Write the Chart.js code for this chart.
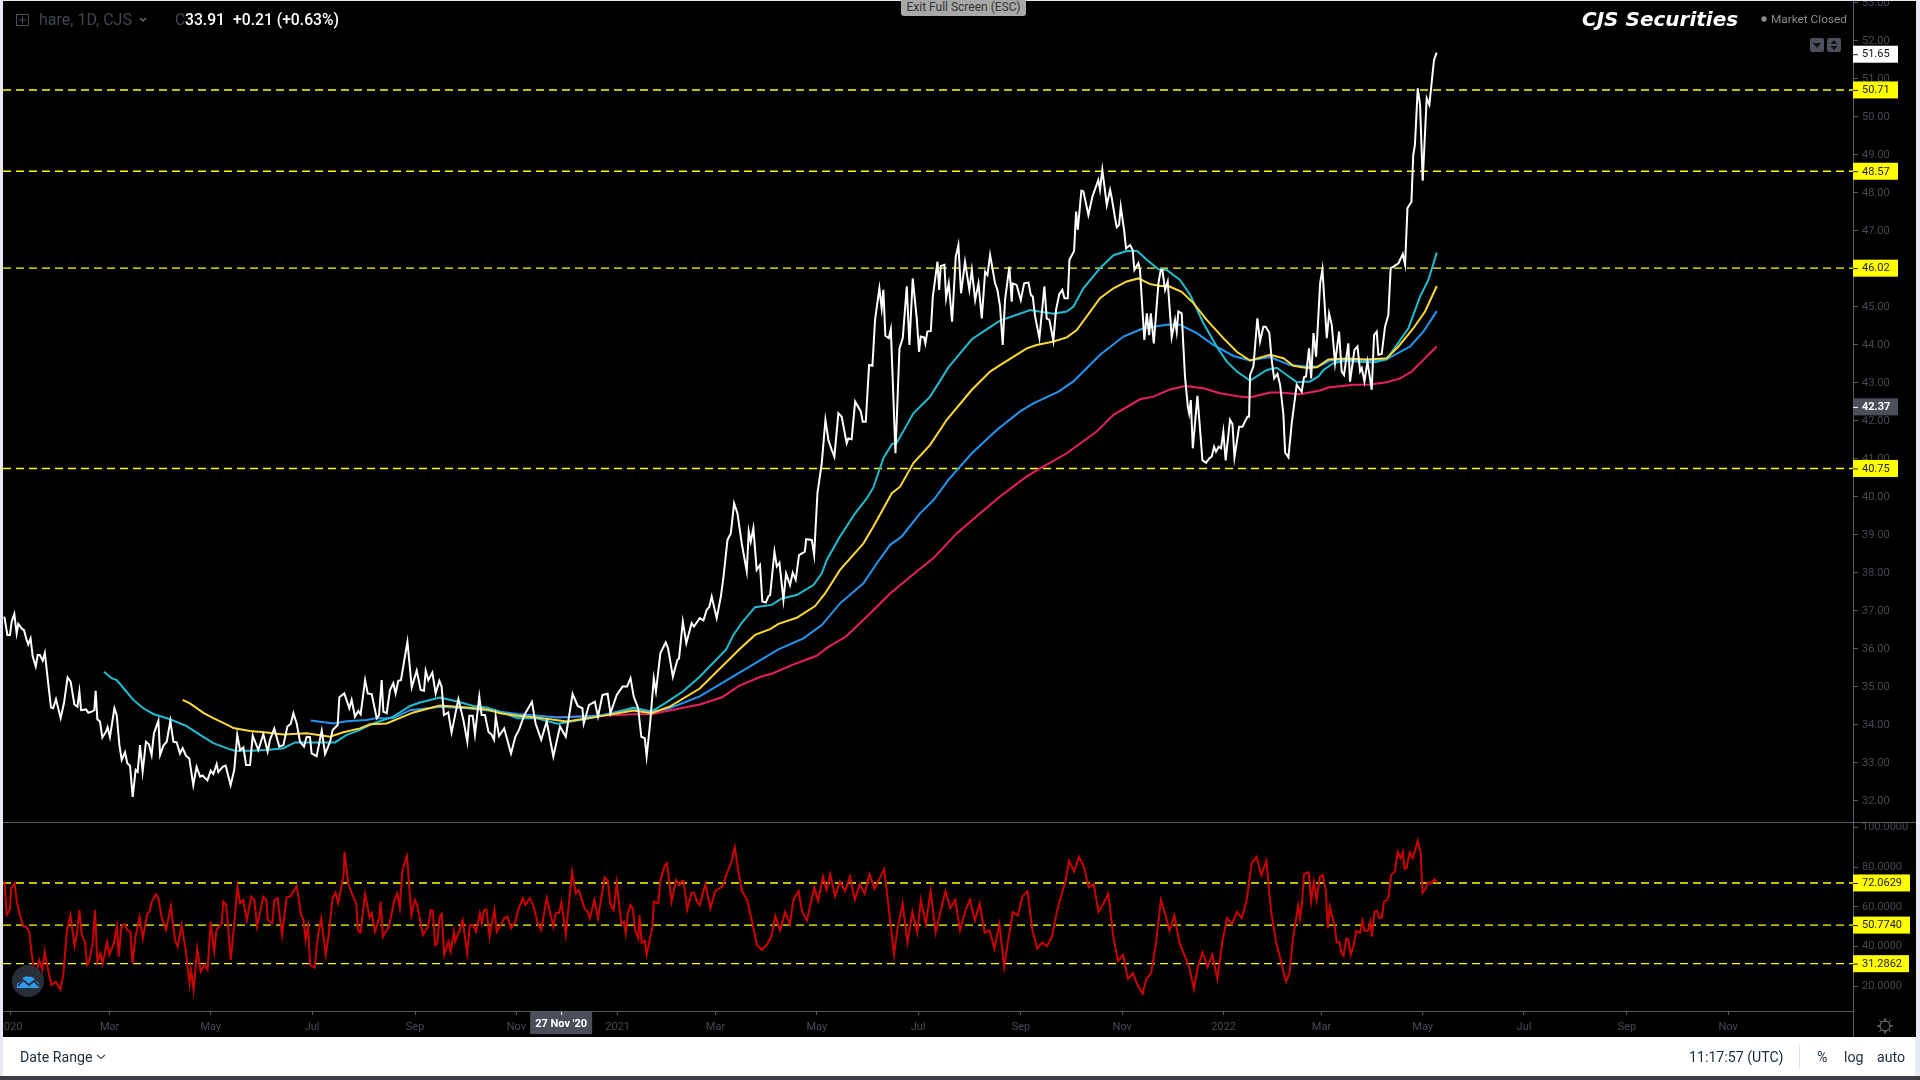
<!DOCTYPE html>
<html>
<head>
<meta charset="utf-8">
<title>CJS Securities</title>
<script src="https://cdn.jsdelivr.net/npm/chart.js@4/dist/chart.umd.min.js"></script>
<style>
html, body { margin:0; padding:0; width:1920px; height:1080px; overflow:hidden; background:#e6e8f2; font-family:Roboto, sans-serif; }
#panel { position:absolute; left:3px; top:1px; width:1913px; height:1036px; background:#000; }
canvas { position:absolute; display:block; }
#priceChart { left:3px; top:1px; }
#rsiChart { left:3px; top:822px; }
.txt { position:absolute; white-space:nowrap; }
#bar { position:absolute; left:3px; top:1037px; width:1912px; height:39px; background:#fff; }
#foot { position:absolute; left:0; top:1076px; width:1920px; height:4px; background:#3c3d42; }
#sep { position:absolute; left:3px; top:822px; width:1913px; height:1px; background:#565a64; }
#axisEnd { position:absolute; left:1853px; top:1011px; width:1px; height:26px; background:#565a64; }
svg { position:absolute; }
</style>
</head>
<body>
<div id="panel"></div>
<canvas id="priceChart" width="1913" height="821"></canvas>
<canvas id="rsiChart" width="1913" height="215"></canvas>
<div id="sep"></div>
<div id="axisEnd"></div>

<svg style="left:16px;top:14px" width="14" height="13"><rect x="0.5" y="0.5" width="12" height="11" fill="none" stroke="#4a4e58"/><path d="M6.5 2.5v7M3 6h7" stroke="#4a4e58"/></svg>
<div class="txt" style="left:39px;top:10px;font-size:16px;color:#41454f">hare, 1D, CJS</div>
<svg style="left:139px;top:17px" width="9" height="6"><path d="M1 1l3 3 3-3" fill="none" stroke="#777b85" stroke-width="1.2"/></svg>
<div class="txt" style="left:175px;top:10px;font-size:15.7px;color:#41454f">C</div>
<div class="txt" style="left:185px;top:10px;font-size:15.7px;font-weight:500;color:#fff">33.91</div>
<div class="txt" style="left:233px;top:10px;font-size:15.7px;font-weight:500;color:#fff">+0.21 (+0.63%)</div>

<div class="txt" style="left:901px;top:0;width:125px;height:16px;line-height:15px;background:#a9a9a9;border-radius:0 0 3px 3px;text-align:center;font-size:12px;color:#333">Exit Full Screen (ESC)</div>

<div class="txt" style="left:1582px;top:7px;font-family:'DejaVu Sans';font-weight:bold;font-style:italic;font-size:20px;color:#fff">CJS Securities</div>
<svg style="left:1761px;top:16px" width="6" height="6"><circle cx="3" cy="3" r="2.7" fill="#8a8a8a"/></svg>
<div class="txt" style="left:1771px;top:12px;font-size:11.8px;color:#8b8b8b">Market Closed</div>
<svg style="left:1810px;top:38px" width="32" height="14"><rect width="14" height="14" rx="2" fill="#4d505c"/><rect x="17" width="14" height="14" rx="2" fill="#4d505c"/><path d="M3 5h8l-4 5z" fill="#111"/><path d="M24 2l3.5 4h-7zM24 12l3.5-4h-7z" fill="#111"/></svg>

<svg style="left:11px;top:964px" width="34" height="34"><circle cx="17" cy="17" r="16" fill="#2a2e39"/><path d="M6 24c-1-4 1-6 4-6 1-5 5-7 8-5 3-1 6 1 6 4 3 0 5 3 4 7z" fill="#2d9cee"/><path d="M7 22l5-6 6 5 5-4 5 5" fill="none" stroke="#2a2e39" stroke-width="1.8"/></svg>

<svg style="left:1876px;top:1017px" width="18" height="18"><circle cx="9" cy="9" r="5" fill="none" stroke="#8b8e96"/><path d="M9 1v3M9 14v3M1 9h3M14 9h3M3.4 3.4l2 2M12.6 12.6l2 2M14.6 3.4l-2 2M5.4 12.6l-2 2" stroke="#8b8e96"/></svg>

<div id="bar"></div>
<div id="foot"></div>
<div class="txt" style="left:20px;top:1049px;font-size:14.2px;color:#1c2b3a">Date Range</div>
<svg style="left:96px;top:1054px" width="10" height="6"><path d="M1 1l4 3.5L9 1" fill="none" stroke="#444" stroke-width="1.1"/></svg>
<div class="txt" style="left:1689px;top:1049px;font-size:14.2px;color:#1c2b3a">11:17:57 (UTC)</div>
<div class="txt" style="left:1799px;top:1045px;width:1px;height:24px;background:#dfe1e8"></div>
<div class="txt" style="left:1817px;top:1049px;font-size:14.2px;color:#1c2b3a">%</div>
<div class="txt" style="left:1844px;top:1049px;font-size:14.2px;color:#1c2b3a">log</div>
<div class="txt" style="left:1877px;top:1049px;font-size:14.2px;color:#1c2b3a">auto</div>

<script>
// x values are calendar days counted from 1 Jan 2020
const monthDays = [0,60,121,182,244,305,366,425,486,547,609,670,731,790,851,912,974,1035];
const monthLabels = ['2020','Mar','May','Jul','Sep','Nov','2021','Mar','May','Jul','Sep','Nov','2022','Mar','May','Jul','Sep','Nov'];
const priceTicks = [32,33,34,35,36,37,38,39,40,41,42,43,44,45,46,47,48,49,50,51,52,53];
const rsiTicks = [20,40,60,80,100];
const priceLevels = [50.71,48.57,46.02,40.75];
const rsiLevels = [72.0629,50.7740,31.2862];

const closeDays = [
-3.4,-1.6,0,1,2.6,4,5,7.4,8.4,10,
11,12.4,13.7,15.5,16.7,18,19.7,21,23,24.7,
26,27.7,30.5,32.5,34.7,36.5,38.8,40.6,41.8,42.8,
45.8,47.2,49.2,50.8,51.6,52.6,54.2,55.6,57.8,58.8,
60.2,62.9,64.3,65.9,67.3,69.3,70.7,72.3,73.9,75.7,
76.9,78.3,79.9,81.9,83.7,85.3,86.7,89.4,90.4,92.4,
94.4,96.6,98.4,100.4,102.4,104,106,108,110.4,112.4,
114.5,116,118.9,120.9,122.5,124.5,125.5,128.1,129.9,132.9,
135.1,136.9,138.6,140.6,142.2,144.6,146.2,149.6,152.6,155.2,
156.6,159.2,162.2,164.7,167.1,169.1,170.7,172.7,174.7,177.1,
178.7,180.7,181.7,184.7,187.8,189.8,192.8,194.4,197.4,198.4,
201.4,204.4,205.8,207.8,209.8,211.2,213.9,215.5,217.9,220.9,
222.3,223.9,224.9,226.9,228.9,230.9,232.3,233.9,235.5,239.4,
242,245,247.4,249.4,250.4,252,254.4,256.4,258.6,260,
261.4,264,266,270.1,273.1,275.5,276.7,278.7,280.1,282.7,
284.1,286.1,288.2,290.2,291.6,292.6,294.6,297.7,301.8,304.4,
306.6,309.8,314.4,316.6,320,323.3,327.3,331.3,334.8,338.9,
342,344.8,345.6,348.8,352.3,354.2,356.9,360,361.7,365.5,
369,371.7,373.8,375.7,378.4,380.3,382.4,383.5,385.6,387.8,
389.1,391.8,395,396.4,399.3,402,403,405.3,407.4,410.6,
412,415.5,417.7,419.7,421.3,422.7,425.7,428.2,429.8,432.2,
434.2,436.2,438.2,440.8,443.8,445,446.2,447.8,449.8,451.8,
453.2,455.3,456.9,457.9,460.5,461.9,463.5,465.9,467.5,469.9,
471.5,473.3,475.3,478.8,479.6,483,484.4,486.4,489,491.2,
493,495,496.6,499,501,504,505,507,509.1,512.5,
513.7,515.5,517.5,519.5,521.1,523.7,525.1,526.1,527.3,529.4,
530.6,533.4,535.8,537.8,540.2,541.8,543.8,546.2,547.6,548.6,
550.6,551.4,552.6,554.7,555.9,558.7,559.7,560.7,562.9,563.9,
565.5,567.5,569.7,571.3,572.9,575.3,577.9,579.4,581.4,583.4,
585.4,587.4,588.8,590.4,593.4,594.8,596.4,598,599.4,602,
603.4,604,606.4,608.9,610.9,613.5,614.9,616.1,617.5,620.1,
623.1,624.5,626.1,628.5,630.1,632.1,633.9,635.2,637.2,638.2,
641,642.2,643.2,645.4,646.6,649.6,652,655.6,656.6,658,
660.7,662.7,663.7,665.7,666.7,668.1,669.1,671.1,672.3,674.7,
676.3,677.3,679.7,680.7,683.3,684.8,686.2,687.2,689,691.8,
693.2,694.2,695.8,697.4,699.8,701.8,702.8,703.8,705.8,707.8,
709.5,710.3,711.3,712.5,715.3,718.3,720.5,722.5,723.9,725.3,
726.5,728.1,729.5,730.9,732.3,734.9,736.4,737.6,740.4,742.4,
745.4,746.4,747,749,751.4,753,755,756.4,758.6,760,
761.5,763.5,765.1,767.1,768.1,770.1,772.1,775.1,778.1,779.5,
780.7,782.5,783.8,785.2,786.8,789.2,790.6,793.2,794.6,796.2,
798.2,800.6,802.2,803.6,806.2,807.2,809.9,811.7,813.3,814.3,
815.9,817.7,820.3,821.7,823.3,824.3,826.3,828.3,830.3,831.7,
833.4,836.4,839,840.4,841.8,844.2,845.3,846.3,848,849.4,
851,853.4,855,857.8,859.4];
const closeValues = [
36.85,36.37,36.37,36.72,36.92,36.41,36.66,36.52,36.5,36.24,
36.12,36.28,35.8,35.54,35.84,35.84,35.69,35.9,35.1,34.46,
34.44,34.68,34.18,34.57,35.25,35.14,34.54,34.48,34.88,34.39,
34.41,34.32,34.35,34.39,34.9,34.15,34.09,33.67,33.82,33.94,
33.68,34.44,34.26,33.47,33.08,33.28,32.99,32.93,32.11,32.82,
32.77,33.47,32.77,33.56,33.49,33.21,33.78,34.11,33.21,33.46,
33.56,34.11,33.56,33.54,33.25,33.39,33.19,33.12,32.42,32.9,
32.64,32.67,32.54,32.8,32.71,32.97,32.76,32.9,32.93,32.42,
32.82,33.74,33.34,33.41,32.95,32.95,33.72,33.34,33.76,33.3,
33.61,33.91,33.43,33.47,33.96,34.03,34.31,34.04,33.56,33.43,
33.69,33.68,33.25,33.18,33.85,33.24,33.56,33.87,34,34.73,
34.83,34.44,34.66,34.22,34.37,34.28,35.18,34.83,34.81,34.18,
34.26,35.18,34.35,34.31,34.92,35.1,34.83,35.16,35.18,36.19,
34.99,35.43,34.92,34.9,35.43,35.18,35.38,34.83,35.16,35.01,
34.26,34.33,33.8,34.68,34.13,33.56,34.24,34.24,33.75,34.75,
34.26,34.26,33.82,33.74,33.61,34.22,33.71,33.91,33.25,33.69,
33.87,34.26,34.61,34.04,33.61,34.09,33.17,33.96,33.69,34.82,
34.5,34.44,34.04,34.53,34.61,34.22,34.79,34.82,34.31,34.79,
35.01,35.01,35.23,34.75,34.44,33.69,33.65,33.17,34.04,35.23,
34.88,35.89,36.17,36.02,35.27,35.71,35.75,36.72,36.15,36.68,
36.59,36.81,36.75,37.03,37.11,37.38,36.81,37.38,37.9,38.87,
39.04,39.83,39.57,38.78,38.04,39.09,38.82,39.18,38.08,38.21,
37.25,37.22,37.39,37.42,38.56,38.17,38.27,37.29,37.99,37.68,
38.01,37.82,38.47,38.56,38.89,38.87,38.47,40.1,40.89,42.03,
41.5,41.24,41.06,42.2,42.11,41.41,41.54,41.52,42.51,42.25,
41.98,41.98,43.47,43.45,44.66,45.49,44.96,45.45,44.24,44.18,
44.41,41.15,43.91,44.18,45.54,44,45.75,44.7,43.82,44.22,
44.2,44.04,44.35,44.37,45.27,46.19,45.45,46.08,46.11,45.23,
45.62,44.61,46.32,46.63,45.36,46.19,45.45,45.97,45.18,45.62,
44.7,45.93,45.84,46.37,45.62,45.45,45.01,44,45.18,46.06,
45.14,45.62,45.58,45.18,45.62,45.64,45.32,45.27,44.75,44.18,
45.54,44.7,44.66,44.11,44.92,45.34,45.45,45.23,45.23,46.24,
46.47,47.51,47.03,48.06,48.04,47.42,47.9,48.34,48.08,48.61,
47.68,48.08,47.86,47.33,47.1,47.16,47.64,47.03,46.54,46.63,
46.5,45.97,46.15,45.97,44.13,44.83,44.26,44.83,44.04,45.62,
45.97,45.97,45.45,45.67,44.2,44.66,44.35,44.88,44.83,43.17,
42.38,42.2,42.55,41.28,42.66,40.97,40.9,41.02,41.06,41.32,
41.19,41.32,41.28,41.72,40.96,42.03,41.92,41.04,41.85,41.85,
42.11,42.11,43.21,43.43,44.7,44.09,44.48,44.48,44.32,43.61,
43.12,43.24,42.95,42.16,41.17,41.04,41.94,42.95,42.77,43.15,
43.17,43.91,43.12,44.31,43.69,45.62,45.99,44.18,44.83,44.53,
43.52,44.35,43.3,43.21,44.04,43.03,43.87,43.96,43.3,43.39,
43.04,43.56,42.82,44.26,44.35,43.74,43.76,44.48,44.79,46.02,
46.06,46.15,46.39,46.11,47.6,47.77,49,49.26,50.75,50.32,
48.32,50.49,50.32,51.5,51.69];

const tealDays = [
56.6,61.2,64.3,69.3,74.3,80.3,86.3,96.4,106.4,114.5,
122.5,130.5,135.5,144.6,154.6,164.7,171.7,180.7,195.8,202.8,
209.8,218.9,230.9,241,247,259,270.1,279.1,287.1,295.2,
305.8,316.6,330,343.4,356.9,375.7,386.4,394.5,405.3,415.5,
431.4,435.8,440.8,448.8,458.9,464.9,473.9,484,489,492,
500,509.1,516.1,520.1,526.1,531.2,534.2,540.2,544.2,554.3,
565.3,572.3,579.4,592.4,596.4,614.5,628.6,636.6,640.6,646.6,
656.6,664.7,672.7,679.1,684.8,691.8,696.8,704.8,710.9,718.9,
726.9,733,739,747,757.1,763.1,769.1,775.1,783.1,788.2,
791.2,797.2,805.2,813.3,821.3,829.3,837.4,842.4,849.4,854.4,859.5];
const tealValues = [
35.4,35.23,35.18,34.92,34.66,34.44,34.29,34.15,33.97,33.74,
33.52,33.39,33.32,33.32,33.34,33.39,33.54,33.54,33.54,33.74,
33.85,34.04,34.22,34.5,34.59,34.72,34.61,34.5,34.46,34.35,
34.18,34.18,34.03,34.13,34.24,34.46,34.35,34.57,34.88,35.27,
35.99,36.37,36.69,37.1,37.16,37.33,37.42,37.68,37.99,38.34,
38.96,39.57,39.96,40.25,41.02,41.39,41.43,41.89,42.2,42.64,
43.41,43.78,44.15,44.53,44.64,44.92,44.82,44.88,45.01,45.49,
46.02,46.36,46.47,46.47,46.24,45.99,45.97,45.71,45.32,44.57,
43.96,43.56,43.3,43.06,43.34,43.4,43.21,43.02,43.04,43.17,
43.34,43.52,43.59,43.56,43.54,43.62,44.13,44.44,45.27,45.71,46.43];

const yellowDays = [
104,108.4,116.5,122.5,132.5,134.5,144.6,154.6,164.7,178.7,
192.8,200.8,210.8,216.9,226.9,243,259,275.1,287.1,295.2,
305.8,316.6,335.4,354.2,375.7,386.4,397.2,415.5,439.4,448.8,
457.9,462.9,473.9,485,491,500,514.1,520.1,531.2,536.2,
544.2,554.3,564.3,579.4,590.4,596.4,612.5,618.5,628.6,636.6,
642.6,656.6,664.7,672.7,679.7,686.8,692.8,697.8,705.8,712.9,
720.9,730.9,739,747,759,767.1,773.1,781.1,787.2,794.2,
805.2,817.3,829.3,836.4,845.4,852.4,859.5];
const yellowValues = [
34.66,34.57,34.32,34.18,33.97,33.92,33.84,33.8,33.75,33.78,
33.69,33.81,33.91,34.02,34.04,34.33,34.51,34.46,34.41,34.31,
34.24,34.2,34.09,34.22,34.38,34.31,34.48,34.96,35.99,36.37,
36.52,36.66,36.82,37.13,37.46,38.08,38.78,39.22,40.1,40.27,
40.89,41.37,42.03,42.82,43.3,43.47,43.91,44,44.09,44.2,
44.39,45.23,45.49,45.67,45.75,45.6,45.55,45.55,45.4,45.1,
44.66,44.18,43.82,43.59,43.74,43.65,43.45,43.39,43.41,43.62,
43.64,43.62,43.65,43.96,44.44,44.88,45.55];

const blueDays = [
181.1,194.8,202.8,214.9,220.9,230.9,241,259,275.1,295.2,
305.8,330,354.2,375.7,386.4,397.2,415.5,462.9,478,489,
500,514.1,522.1,530.2,537.2,548.2,556.3,565.3,579.4,594.4,
608.5,616.5,631.6,640.6,656.7,670.7,682.7,696.8,704.8,714.9,
724.9,737,747,759,771.1,781.1,788.2,795.2,805.2,817.3,
829.3,843.4,851.4,859.5];
const blueValues = [
34.12,34.04,34.1,34.13,34.18,34.18,34.39,34.48,34.44,34.35,
34.29,34.2,34.24,34.44,34.35,34.44,34.75,35.99,36.28,36.63,
37.2,37.73,38.25,38.74,38.96,39.57,39.92,40.45,41.15,41.76,
42.25,42.46,42.77,43.04,43.74,44.22,44.44,44.53,44.53,44.31,
44,43.71,43.59,43.68,43.47,43.43,43.43,43.59,43.61,43.59,
43.62,43.96,44.35,44.89];

const pinkDays = [
324.5,343.4,364.9,375.7,386.4,397.2,415.5,428.9,439.1,452.2,
459.6,471.3,485.9,493.2,503.4,516.1,530.2,541.2,556.3,570.3,
584.4,596.4,612.5,620.5,636.6,654.6,664.7,680.7,688.8,698.8,
707.8,718.9,728.9,741,747,759,765.1,777.1,789.2,794.2,
809.3,819.3,829.3,837.4,844.4,850.4,855.4,859.5];
const pinkValues = [
34.2,34.22,34.26,34.28,34.28,34.38,34.54,34.73,35.03,35.27,
35.36,35.58,35.82,36.06,36.32,36.85,37.46,37.86,38.39,39.04,
39.57,40.01,40.54,40.75,41.15,41.72,42.16,42.57,42.64,42.83,
42.92,42.86,42.73,42.64,42.62,42.75,42.75,42.7,42.8,42.88,
42.95,42.96,43.02,43.12,43.3,43.56,43.78,43.96];

const rsiDays = [
-3.3,-2,-0.1,0.7,2.8,4.2,6.1,8,9.6,11.5,
12.8,14.1,15.5,17.6,19.5,20.9,23,24.9,27.6,30.3,
32.1,34.3,36.4,38.9,40.2,41.8,43.2,45.1,46.4,47.7,
49.9,51.2,52.6,54.5,55.8,58.5,59.8,62.5,64.4,65.5,
67.1,69.2,70.6,72.5,73.8,75.4,78.1,80,82.7,84,
85.4,88,89.4,91.3,94,96.9,99.4,101,103.4,105.5,
108.2,109,110.6,112.8,114.9,117.1,119,120.9,123,124.4,
127.6,128.4,130.3,133,135.1,137,138.6,140.5,142.6,145.3,
147.2,148.8,152.6,154.5,155.3,158,159.3,161.2,163.9,166.6,
168.7,172.7,175.4,176.8,178.1,179.5,180.8,183.5,185.4,187.5,
190.2,192.1,194.3,196.1,197.7,201,201.5,203.7,206.3,208.5,
209.6,211.2,213.9,216.6,217.9,219.8,222.5,223.3,224.6,228.4,
231.3,233.2,234.8,236.4,239.1,241.8,243.9,245.3,248.8,252,
253.4,254.7,256.1,257.4,258.8,260.1,261.5,264.1,265.5,267.4,
268.2,270.9,272.7,275.4,277,278.9,280.8,283,284.3,285.6,
287,288.9,291.8,293.2,295,297.7,299.6,301.8,304.4,306.4,
309,310.4,313.1,315.2,317.9,320,323.3,327.3,328.7,330.8,
332.2,334.8,338.6,340.8,342.6,346.1,348,349.3,352,354.2,
358.2,360.1,361.7,363.6,365.5,368.2,369.8,370.9,372.2,373.8,
375.2,376.5,378.4,379.2,380.5,382.4,383.5,387,387.8,390.5,
391.8,394.5,395.8,398.5,401.2,403.1,404.7,405.8,407.9,410.6,
412,413.9,415.5,418.9,421.9,424.8,429.2,432.2,434.4,436.6,
438.8,441,444,446.9,449.9,452.8,455.8,458.7,461,463.9,
466.9,469.8,472,475,477.2,480.1,482.3,484.5,486.8,489.7,
491.9,494.1,497.1,500,503,506,508.9,511.9,514.8,517.8,
520.7,523.7,526.6,529.6,532.5,534.7,537.7,540.6,543.6,546.5,
548.7,551.7,554.6,557.6,560.5,563.5,566.4,569.4,572.3,575.3,
578.2,581.2,584.1,587.1,590,593,596,598.9,601.1,604.1,
607,610,612.9,615.9,618.8,621.8,624.7,627.7,630.6,633.6,
635.8,638,641,643.9,646.9,649.8,652.8,655.7,658.7,661.6,
664.6,667.5,670.5,673.4,676.4,679.3,682.3,684.5,687.4,690.4,
693.3,695.5,698.5,701.4,704.4,707.3,710.3,713.2,715.5,718.4,
721.4,724.3,727.3,730.2,733.2,736.1,739.1,742,745,747.9,
750.9,753.8,756.8,759.7,762.7,765.6,768.6,770.8,773,776,
777.1,778.3,779.5,782.3,783.8,785.4,787.1,789,790.7,792.6,
793.8,795,798,799.2,800.9,802.1,803.3,805,806.2,807.6,
809.7,810.9,813.3,814.7,815.9,818.1,819.5,820.4,821.9,823.5,
824.7,826.4,827.6,829.5,830.7,831.9,834.2,835.9,837.8,839,
840.2,841.4,843.1,845,846.1,848,849.7,850.9,852.8,854,
856.1,858,859.7];
const rsiValues = [
72.7,55.9,58.4,69.3,71.9,61.8,55.9,50,50,47.5,
38.2,29.8,24.7,33.1,28.1,37.3,28.1,20.5,22.2,18.3,
25.6,48.3,55.9,40.2,45.8,58.4,45.8,42.4,30.6,32.3,
42.4,58.4,32.3,36.5,31.1,42.4,35.7,41.5,50,34.8,
50,51.3,48.3,47.4,31.4,44.1,55,44.1,56.7,57.5,
62.6,66.5,64.3,55,48.3,60.4,43.2,39.9,50.8,39.9,
21.3,28.1,18,39,27.2,30.6,28.1,52.5,37.3,48.3,
51.6,62.6,60.9,33.1,51.6,70.2,61.8,63.4,53.3,65.1,
63.4,50,65.1,63.4,53.3,51.6,63.4,64.3,45.8,64.8,
65.1,70.5,55.9,53.3,43.2,50,30.6,29.3,44.9,54.2,
35.7,46.6,64.3,67.1,61.8,76.1,87.8,71.9,66,61.8,
48.3,47.1,66.5,54.7,56.7,47.4,54.2,62.6,44.9,50.3,
62.6,66.8,59.7,78.6,85.7,55.9,63.4,60.9,45.8,50.3,
58.4,58,40.7,41.5,55,56.4,35.7,42.4,37.3,47.4,
42.4,48.3,53.3,36.5,50.8,50.8,47.4,56.7,51.6,58.4,
58.7,44.9,58.7,47.4,50,54.2,55,49.1,52.5,59.2,
64.3,60.9,64.3,60.9,51.6,48.3,64.3,50,56.7,57,
62.3,45.8,77.7,66.8,68.5,59.2,57.5,54.2,63.4,54.2,
74.9,73.2,60.9,58.4,72.2,51.6,52.5,46.6,56.7,60.9,
59.2,48.3,44.1,55.9,41.9,42.9,35.7,50,62.6,61.8,
73.5,81.1,82,62.6,73.5,71,73,73,58.4,67.1,
67.3,62.6,60.9,71.6,59.3,67.9,70.4,77.8,82.1,90.1,
77.8,67.9,63.6,53.1,40.7,38.3,40.7,45.1,55.6,48.1,
57.4,51.2,63.6,67.9,57.4,53.1,61.7,69.8,63,75.3,
68.5,76.5,65.4,72.8,67.9,75.3,63.6,71.6,66.7,76.5,
69.1,74.1,79,57.4,35.8,49.4,61.7,42,57.4,46.9,
63.6,51.2,67.9,46.9,57.4,67.9,59.3,63.6,48.1,57.4,
63.6,53.1,61.7,46.9,48.1,38.9,51.2,29.6,42,57.4,
55.6,65.4,67.9,48.1,38.9,42,40.1,45.1,57.4,66.7,
72.8,83.3,77.8,85.2,80.2,69.8,71.6,57.4,61.7,66.7,
45.1,32.7,35.8,23.5,26.5,20.4,16,23.5,26.5,42,
63.6,57.4,48.1,55.6,42,35.8,29.6,18.5,29.6,37,
29.6,35.8,23.5,42,54.3,51.2,57.4,54.3,63.6,82.1,
85.2,75.9,83.3,57.4,42,32.7,22.2,26.5,45.1,60.5,
54.2,61.75,76.6,77.4,62.6,72.7,63.4,75.2,76.1,68.5,
49.1,60.1,50,41.9,42.2,36.5,35.3,44.1,43.6,35.7,
41.5,47.8,46.9,52.8,47.9,47.9,52.5,44.9,57.5,58,
54.5,54.5,62.6,63.4,66,76.1,77.7,87.8,84.5,87.8,
79.1,79.8,87.5,84.5,87.5,93.4,87.8,67.1,69.3,72.4,
71.9,73.9,72.2];

const dayMin = -4.217, dayMax = 1110.2;
const axisGrey = '#565a64', labelGrey = '#474a53';
const tickFont = { family:'Roboto', size:11 };

const toPoints = (xs, ys) => xs.map((x, i) => ({ x, y: ys[i] }));

const lineSet = (xs, ys, color, width) => ({
  data: toPoints(xs, ys), borderColor: color, borderWidth: width,
  pointRadius: 0, fill: false, tension: 0
});

const levelSet = (value) => ({
  data: [{ x: dayMin, y: value }, { x: dayMax, y: value }],
  borderColor: '#ffff00', borderWidth: 1.4, borderDash: [8, 5],
  pointRadius: 0, fill: false
});

// price and rsi flags sitting on the right axis
const flagsPlugin = (flags) => ({
  id: 'flags',
  afterDraw(chart) {
    const ctx = chart.ctx, scale = chart.scales.y, left = chart.chartArea.right;
    ctx.save();
    flags.forEach(f => {
      const y = scale.getPixelForValue(f.value);
      ctx.fillStyle = f.bg;
      ctx.fillRect(left, y - 8.5, f.width, 17);
      ctx.strokeStyle = f.fg;
      ctx.beginPath(); ctx.moveTo(left, y + 0.5); ctx.lineTo(left + 5, y + 0.5); ctx.stroke();
      ctx.fillStyle = f.fg;
      ctx.font = (f.bold ? 'bold ' : '') + '11px Roboto';
      ctx.textBaseline = 'middle';
      ctx.textAlign = 'left';
      ctx.fillText(f.label, left + 9, y + 0.5);
    });
    ctx.restore();
  }
});

// grey crosshair date under the lower pane
const crosshairPlugin = {
  id: 'crosshair',
  afterDraw(chart) {
    const ctx = chart.ctx, x = chart.scales.x.getPixelForValue(332), top = chart.chartArea.bottom;
    ctx.save();
    ctx.fillStyle = '#4b4f59';
    ctx.fillRect(x - 31, top + 1, 62, 22);
    ctx.strokeStyle = '#fff';
    ctx.beginPath(); ctx.moveTo(x + 0.5, top + 1); ctx.lineTo(x + 0.5, top + 4); ctx.stroke();
    ctx.fillStyle = '#fff';
    ctx.font = 'bold 11px Roboto';
    ctx.textAlign = 'center';
    ctx.textBaseline = 'middle';
    ctx.fillText("27 Nov '20", x, top + 13);
    ctx.restore();
  }
};

const yAxis = (min, max, ticks, digits) => ({
  position: 'right', min, max,
  afterBuildTicks(a) { a.ticks = ticks.map(v => ({ value: v })); },
  afterFit(a) { a.width = 63; a.paddingTop = 0; a.paddingBottom = 0; },
  grid: { drawOnChartArea: false, tickLength: 5, color: axisGrey },
  border: { color: axisGrey },
  ticks: { color: labelGrey, font: tickFont, padding: 4, callback: v => v.toFixed(digits) }
});

new Chart(document.getElementById('priceChart'), {
  type: 'line',
  data: {
    datasets: [
      lineSet(closeDays, closeValues, '#ffffff', 2),
      lineSet(yellowDays, yellowValues, '#fdd835', 2),
      lineSet(tealDays, tealValues, '#1fbcd2', 2),
      lineSet(blueDays, blueValues, '#2196f3', 2),
      lineSet(pinkDays, pinkValues, '#e91e63', 2),
      ...priceLevels.map(levelSet)
    ]
  },
  options: {
    responsive: false, animation: false, parsing: false, normalized: true,
    layout: { padding: 0 },
    plugins: { legend: { display: false }, tooltip: { enabled: false } },
    scales: {
      x: { type: 'linear', display: false, min: dayMin, max: dayMax },
      y: yAxis(31.447, 53.05, priceTicks, 2)
    }
  },
  plugins: [flagsPlugin([
    { value: 51.65, label: '51.65', bg: '#ffffff', fg: '#111', width: 45 },
    { value: 50.71, label: '50.71', bg: '#ffff00', fg: '#222', width: 45 },
    { value: 48.57, label: '48.57', bg: '#ffff00', fg: '#222', width: 45 },
    { value: 46.02, label: '46.02', bg: '#ffff00', fg: '#222', width: 45 },
    { value: 42.37, label: '42.37', bg: '#4b4f59', fg: '#ffffff', width: 45, bold: true },
    { value: 40.75, label: '40.75', bg: '#ffff00', fg: '#222', width: 45 }
  ])]
});

new Chart(document.getElementById('rsiChart'), {
  type: 'line',
  data: {
    datasets: [
      lineSet(rsiDays, rsiValues, '#cc0000', 2),
      ...rsiLevels.map(levelSet)
    ]
  },
  options: {
    responsive: false, animation: false, parsing: false, normalized: true,
    layout: { padding: 0 },
    plugins: { legend: { display: false }, tooltip: { enabled: false } },
    scales: {
      x: {
        type: 'linear', min: dayMin, max: dayMax,
        afterBuildTicks(a) { a.ticks = monthDays.map(v => ({ value: v })); },
        afterFit(a) { a.height = 26; a.paddingLeft = 0; a.paddingRight = 0; },
        grid: { drawOnChartArea: false, tickLength: 4, color: axisGrey },
        border: { color: axisGrey },
        ticks: {
          autoSkip: false, maxRotation: 0, color: labelGrey, font: tickFont, padding: 6,
          callback: (v, i) => monthLabels[i]
        }
      },
      y: yAxis(7.37, 102.86, rsiTicks, 4)
    }
  },
  plugins: [flagsPlugin([
    { value: 72.0629, label: '72.0629', bg: '#ffff00', fg: '#222', width: 57 },
    { value: 50.7740, label: '50.7740', bg: '#ffff00', fg: '#222', width: 57 },
    { value: 31.2862, label: '31.2862', bg: '#ffff00', fg: '#222', width: 56 }
  ]), crosshairPlugin]
});
</script>
</body>
</html>
